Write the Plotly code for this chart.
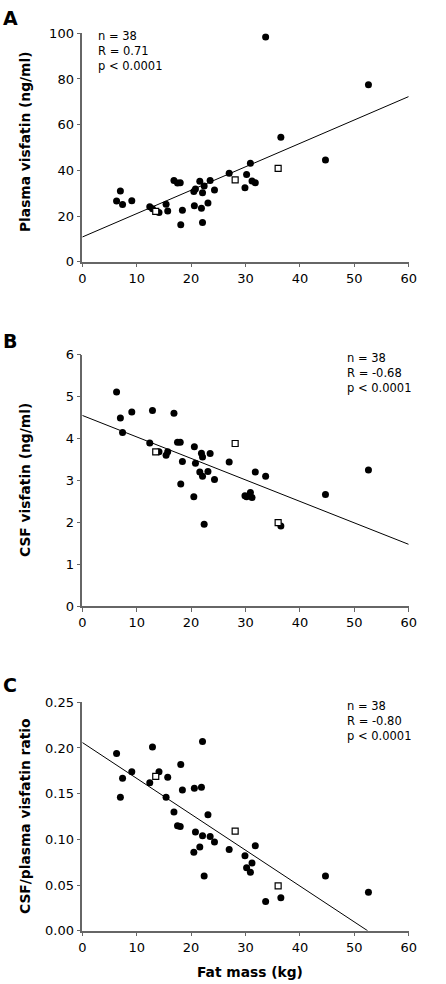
import plotly.graph_objects as go

# ---------------- data ----------------
fat_mass = [6.3, 7.0, 7.4, 9.1, 12.4, 12.9, 14.1, 15.4, 15.7, 16.85, 17.5, 18.0, 18.1, 18.4,
            20.6, 20.5, 20.8, 21.6, 21.9, 22.1, 22.1, 22.4, 23.1, 23.5, 24.3, 27.0, 29.9,
            30.2, 30.9, 31.2, 31.8, 33.7, 36.5, 44.7, 52.6]
plasma = [26.6, 31.0, 25.0, 26.7, 24.1, 23.2, 21.5, 25.1, 22.2, 35.6, 34.5, 34.6, 16.2, 22.5,
          24.5, 30.7, 31.8, 35.2, 23.4, 30.2, 17.2, 33.1, 25.7, 35.5, 31.4, 38.7, 32.4,
          38.2, 43.1, 35.3, 34.6, 98.4, 54.5, 44.5, 77.5]
csf = [5.11, 4.49, 4.14, 4.63, 3.89, 4.67, 3.68, 3.60, 3.68, 4.60, 3.91, 3.91, 2.91, 3.45,
       3.80, 2.61, 3.41, 3.20, 3.65, 3.10, 3.56, 1.95, 3.21, 3.64, 3.02, 3.44, 2.63,
       2.61, 2.71, 2.59, 3.20, 3.10, 1.91, 2.66, 3.25]
ratio = [0.194, 0.146, 0.167, 0.174, 0.162, 0.201, 0.174, 0.146, 0.168, 0.130, 0.115, 0.114,
         0.182, 0.154, 0.156, 0.086, 0.108, 0.0916, 0.157, 0.104, 0.207, 0.060, 0.127, 0.103,
         0.097, 0.089, 0.082, 0.069, 0.064, 0.074, 0.093, 0.032, 0.036, 0.060, 0.042]

# open-square subjects
sq_fat_mass = [13.5, 28.1, 36.0]
sq_plasma = [22.0, 35.8, 40.9]
sq_csf = [3.68, 3.88, 1.99]
sq_ratio = [0.169, 0.109, 0.049]

# regression lines (intercept, slope, x extent)
fit_A = (10.8, 1.025, [0, 60])
fit_B = (4.55, -0.0513, [0, 60])
fit_C = (0.206, -0.003928, [0, 52.45])

stats_A = ["n = 38", "R = 0.71", "p < 0.0001"]
stats_B = ["n = 38", "R = -0.68", "p < 0.0001"]
stats_C = ["n = 38", "R = -0.80", "p < 0.0001"]

y_titles = ["Plasma visfatin (ng/ml)", "CSF visfatin (ng/ml)", "CSF/plasma visfatin ratio"]
x_title = "Fat mass (kg)"
panel_letters = ["A", "B", "C"]

x_ticks = [0, 10, 20, 30, 40, 50, 60]
y_ticks_A = [0, 20, 40, 60, 80, 100]
y_ticks_B = [0, 1, 2, 3, 4, 5, 6]
y_ticks_C = [0, 0.05, 0.10, 0.15, 0.20, 0.25]
y_ticktext_C = ["0.00", "0.05", "0.10", "0.15", "0.20", "0.25"]

# ---------------- layout helpers ----------------
W, H = 446, 984
FONT = "DejaVu Sans, Arial, sans-serif"


def px_x(p):
    return p / W


def px_y(p):
    return 1 - p / H


x_dom = [px_x(82.3), px_x(408.7)]
panels = [
    dict(top=33.3, bot=261.7, yvals=plasma, sq=sq_plasma, fit=fit_A, rng=[0, 100],
         ticks=y_ticks_A, ticktext=[str(t) for t in y_ticks_A], stats=stats_A,
         stats_x=96, stats_y=51, letter_y=18, ytitle_y=142),
    dict(top=354.7, bot=606.0, yvals=csf, sq=sq_csf, fit=fit_B, rng=[0, 6],
         ticks=y_ticks_B, ticktext=[str(t) for t in y_ticks_B], stats=stats_B,
         stats_x=345, stats_y=373, letter_y=341, ytitle_y=480),
    dict(top=702.3, bot=930.7, yvals=ratio, sq=sq_ratio, fit=fit_C, rng=[0, 0.25],
         ticks=y_ticks_C, ticktext=y_ticktext_C, stats=stats_C,
         stats_x=345, stats_y=721, letter_y=685, ytitle_y=816),
]

fig = go.Figure()
annotations = []
axis_color = "#666666"

for i, p in enumerate(panels, start=1):
    xa = "x" if i == 1 else f"x{i}"
    ya = "y" if i == 1 else f"y{i}"
    b, m, xr = p["fit"]
    fig.add_trace(go.Scatter(x=xr, y=[b + m * v for v in xr], mode="lines",
                             line=dict(color="black", width=1), xaxis=xa, yaxis=ya,
                             showlegend=False, hoverinfo="skip"))
    fig.add_trace(go.Scatter(x=fat_mass, y=p["yvals"], mode="markers",
                             marker=dict(symbol="circle", size=7, color="black"),
                             xaxis=xa, yaxis=ya, showlegend=False))
    fig.add_trace(go.Scatter(x=sq_fat_mass, y=p["sq"], mode="markers",
                             marker=dict(symbol="square", size=6, color="white",
                                         line=dict(color="black", width=1.2)),
                             xaxis=xa, yaxis=ya, showlegend=False))

    xkey = "xaxis" if i == 1 else f"xaxis{i}"
    ykey = "yaxis" if i == 1 else f"yaxis{i}"
    fig.update_layout(**{
        xkey: dict(domain=x_dom, anchor=ya, range=[0, 60], tickvals=x_ticks,
                   showgrid=False, zeroline=False, showline=True, linecolor=axis_color,
                   linewidth=1.5, ticks="outside", ticklen=4, tickcolor=axis_color,
                   automargin=False,
                   tickfont=dict(family=FONT, size=13, color="black")),
        ykey: dict(domain=[px_y(p["bot"]), px_y(p["top"])], anchor=xa, range=p["rng"],
                   tickvals=p["ticks"], ticktext=p["ticktext"],
                   showgrid=False, zeroline=False, showline=True, linecolor=axis_color,
                   linewidth=1.5, ticks="outside", ticklen=4, tickcolor=axis_color,
                   automargin=False,
                   tickfont=dict(family=FONT, size=13, color="black")),
    })

    annotations.append(dict(text="<br>".join(p["stats"]), x=px_x(p["stats_x"]),
                            y=px_y(p["stats_y"]), xref="paper", yref="paper",
                            xanchor="left", yanchor="middle", align="left",
                            showarrow=False, font=dict(family=FONT, size=11.5, color="black")))
    annotations.append(dict(text=f"<b>{panel_letters[i-1]}</b>", x=px_x(1), y=px_y(p["letter_y"]),
                            xref="paper", yref="paper", xanchor="left", yanchor="middle",
                            showarrow=False, font=dict(family=FONT, size=19, color="black")))
    annotations.append(dict(text=f"<b>{y_titles[i-1]}</b>", x=px_x(25), y=px_y(p["ytitle_y"]),
                            xref="paper", yref="paper", xanchor="center", yanchor="middle",
                            textangle=-90, showarrow=False,
                            font=dict(family=FONT, size=13.8, color="black")))

annotations.append(dict(text=f"<b>{x_title}</b>", x=px_x(250), y=px_y(972), xref="paper",
                        yref="paper", xanchor="center", yanchor="middle", showarrow=False,
                        font=dict(family=FONT, size=13.8, color="black")))

fig.update_layout(width=W, height=H, margin=dict(l=0, r=0, t=0, b=0),
                  paper_bgcolor="white", plot_bgcolor="white",
                  annotations=annotations, showlegend=False)

fig.write_html("out.html", config={"displayModeBar": False},
               post_script="document.body.style.margin='0';")
